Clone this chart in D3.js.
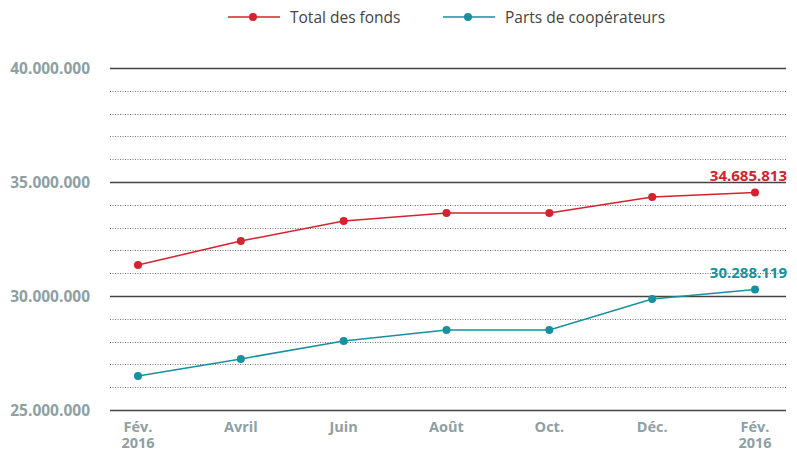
<!DOCTYPE html>
<html>
<head>
<meta charset="utf-8">
<script src="https://cdn.jsdelivr.net/npm/d3@7"></script>
<style>
  body { margin: 0; background: #fff; }
  text { font-family: "Open Sans", sans-serif; }
</style>
</head>
<body>
<div id="chart"></div>
<script>
/**
 * DATA
 * */
const months = ["Fév.", "Avril", "Juin", "Août", "Oct.", "Déc.", "Fév."];
const years = ["2016", "", "", "", "", "", "2016"];
const totalFonds = [31.36, 32.41, 33.29, 33.64, 33.64, 34.34, 34.54];
const partsCoop = [26.49, 27.24, 28.03, 28.51, 28.51, 29.87, 30.29];
const seriesNames = ["Total des fonds", "Parts de coopérateurs"];
const endLabels = ["34.685.813", "30.288.119"];
const yTicks = [25, 30, 35, 40];

const colors = ["#d6212e", "#15919f"];

const width = 797,
  height = 451,
  margin = { top: 68, bottom: 41, left: 110, right: 11 };

const svg = d3.select("#chart")
  .append("svg")
  .attr("width", width)
  .attr("height", height);

const x = d3.scalePoint()
  .domain(d3.range(months.length))
  .range([138, 755]);

const y = d3.scaleLinear()
  .domain([25, 40])
  .range([height - margin.bottom, margin.top]);

// grid: solid every 5M, dotted every 1M
const grid = svg.append("g");
d3.range(25, 41, 1).forEach(v => {
  const solid = yTicks.includes(v);
  grid.append("line")
    .attr("x1", margin.left)
    .attr("x2", width - margin.right)
    .attr("y1", Math.round(y(v)) + 0.5)
    .attr("y2", Math.round(y(v)) + 0.5)
    .attr("stroke", solid ? "#444" : "#777")
    .attr("stroke-width", solid ? 1.4 : 1)
    .attr("stroke-dasharray", solid ? null : "1,1.5");
});

// y labels
svg.append("g")
  .selectAll("text")
  .data(yTicks)
  .join("text")
  .attr("x", 90)
  .attr("y", d => y(d) + 6)
  .attr("text-anchor", "end")
  .attr("fill", "#8ea0a4")
  .attr("font-size", 15.5)
  .attr("font-weight", "bold")
  .text(d => d3.format(",")(d * 1e6).replace(/,/g, "."));

// x labels (month + year on a second line)
const xAxis = svg.append("g")
  .attr("fill", "#8ea0a4")
  .attr("font-size", 14.5)
  .attr("font-weight", "bold")
  .attr("text-anchor", "middle");
xAxis.selectAll("text.month")
  .data(months)
  .join("text")
  .attr("class", "month")
  .attr("x", (d, i) => x(i))
  .attr("y", 432)
  .text(d => d);
xAxis.selectAll("text.year")
  .data(years.filter(d => d))
  .join("text")
  .attr("class", "year")
  .attr("x", d => null)
  .each(function (d, j) {
    const idx = years.map((v, i) => v ? i : -1).filter(i => i >= 0)[j];
    d3.select(this).attr("x", x(idx));
  })
  .attr("y", 447.5)
  .text(d => d);

// lines
const line = d3.line()
  .x((d, i) => x(i))
  .y(d => y(d));

[totalFonds, partsCoop].forEach((series, s) => {
  svg.append("path")
    .datum(series)
    .attr("fill", "none")
    .attr("stroke", colors[s])
    .attr("stroke-width", 1.5)
    .attr("d", line);
  svg.append("g")
    .selectAll("circle")
    .data(series)
    .join("circle")
    .attr("cx", (d, i) => x(i))
    .attr("cy", d => y(d))
    .attr("r", 4)
    .attr("fill", colors[s]);
  svg.append("text")
    .attr("x", 787)
    .attr("y", y(series[series.length - 1]) - 11)
    .attr("text-anchor", "end")
    .attr("fill", colors[s])
    .attr("font-size", 15)
    .attr("font-weight", "bold")
    .text(endLabels[s]);
});

// legend
const legendX = [228, 443];
seriesNames.forEach((name, s) => {
  const g = svg.append("g").attr("transform", `translate(${legendX[s]},17)`);
  g.append("line").attr("x1", 0).attr("x2", 52)
    .attr("stroke", colors[s]).attr("stroke-width", 1.5);
  g.append("circle").attr("cx", 25).attr("r", 4).attr("fill", colors[s]);
  g.append("text").attr("x", 62).attr("y", 5.5)
    .attr("fill", "#444").attr("font-size", 15.5).text(name);
});
</script>
</body>
</html>
